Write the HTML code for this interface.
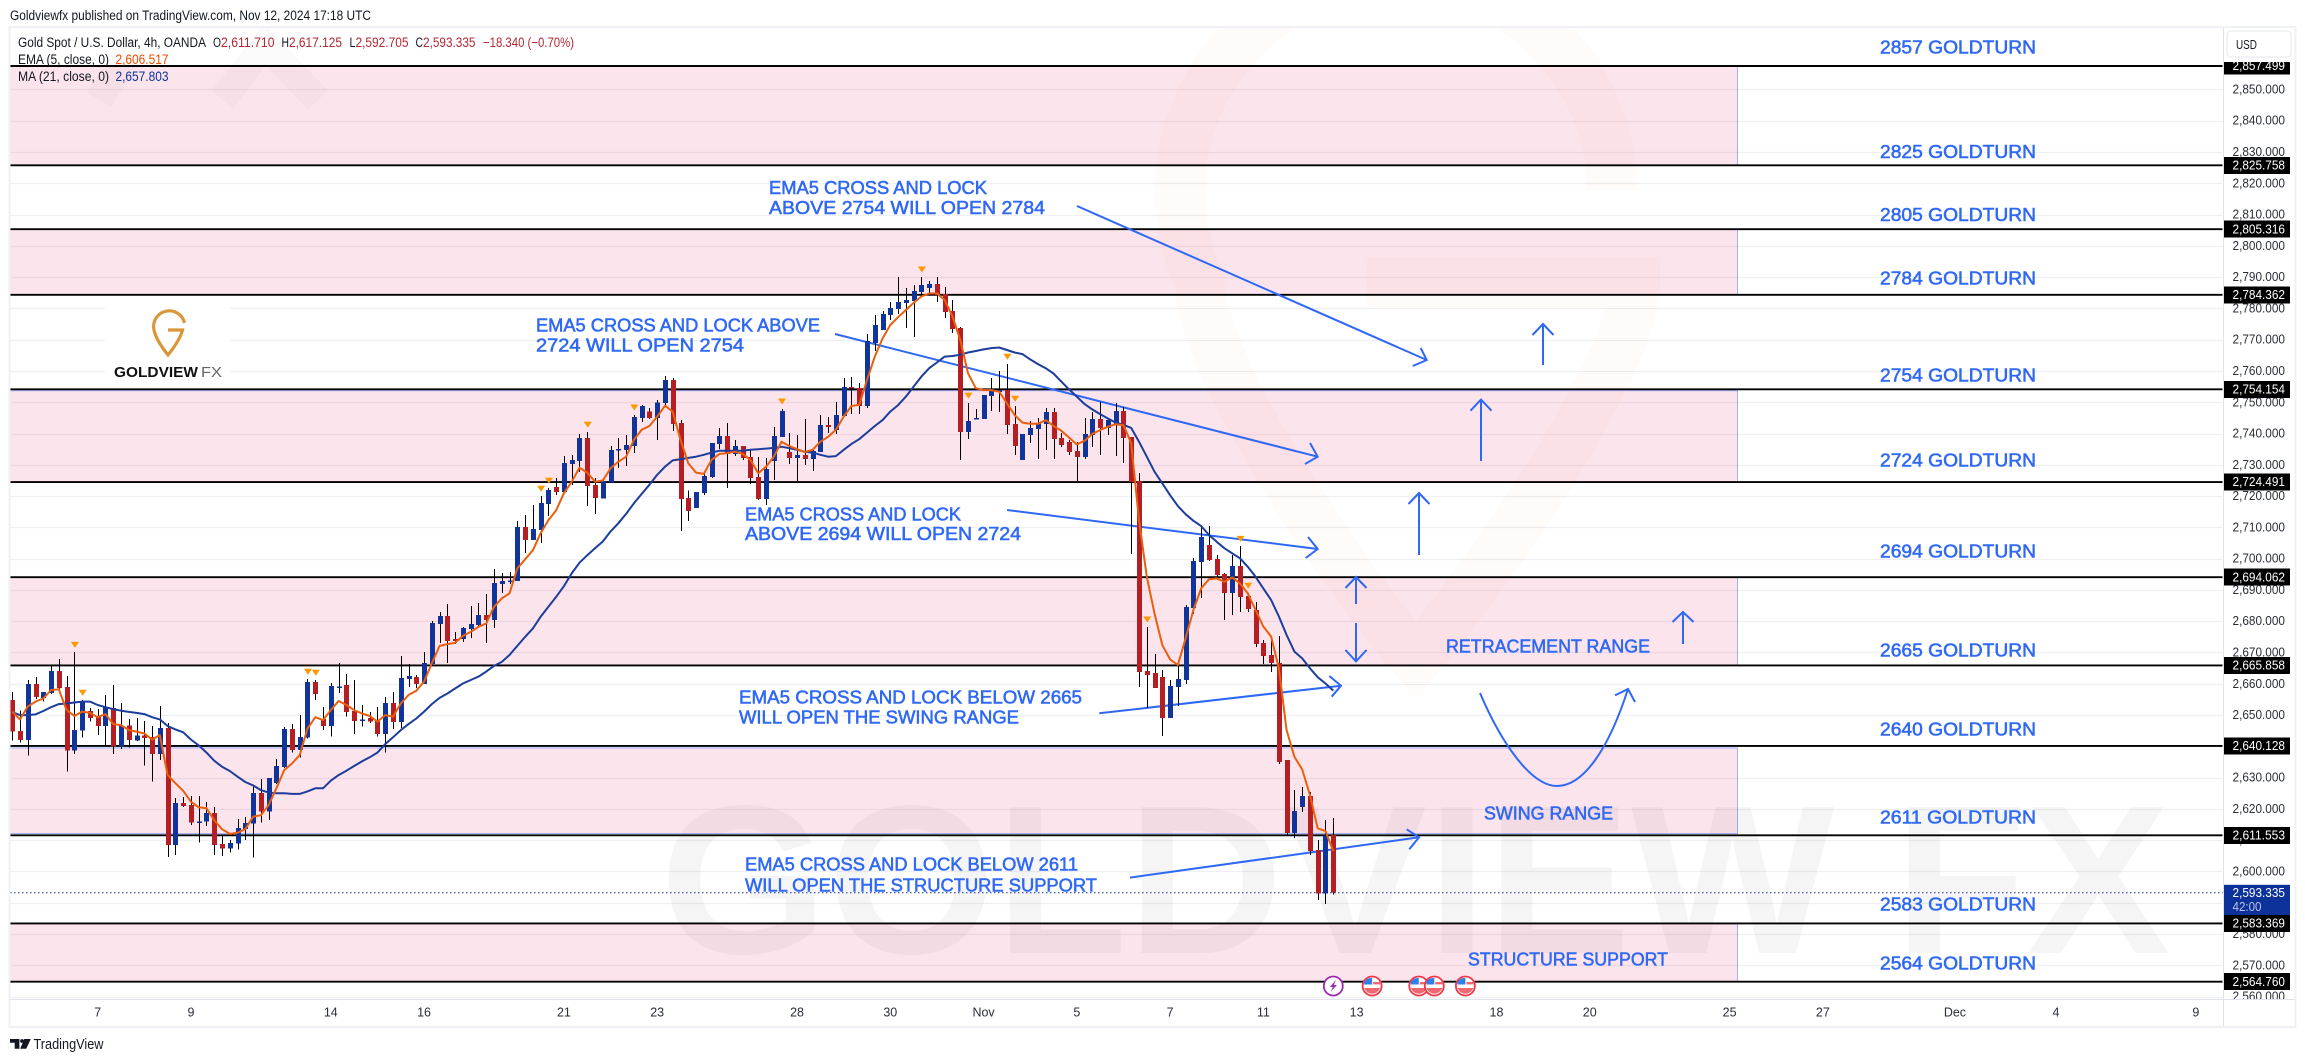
<!DOCTYPE html>
<html lang="en">
<head>
<meta charset="utf-8">
<title>Gold Spot / U.S. Dollar 4h chart</title>
<style>
html,body{margin:0;padding:0;background:#fff;width:2305px;height:1062px;overflow:hidden}
svg{display:block}
text{font-family:"Liberation Sans",sans-serif}
.note{fill:#2f68f5;font-size:18.5px;stroke:#2f68f5;stroke-width:.55}
.arrow{fill:none;stroke:#2f68f5;stroke-width:2;stroke-linejoin:miter}
.legend{font-size:13.5px;fill:#131722}
.red{fill:#b22833}
</style>
</head>
<body>
<svg id="chart" xmlns="http://www.w3.org/2000/svg" width="2305" height="1062" viewBox="0 0 2305 1062">
  <rect x="0" y="0" width="2305" height="1062" fill="#ffffff"/>
  <text x="10" y="20" font-size="13.5" fill="#131722" textLength="361" lengthAdjust="spacingAndGlyphs">Goldviewfx published on TradingView.com, Nov 12, 2024 17:18 UTC</text>
  <rect x="9.5" y="27" width="2286" height="1000" fill="#ffffff" stroke="#eff1f6" stroke-width="2"/>

  <clipPath id="plotClip"><rect x="10.5" y="28" width="2212" height="970.5"/></clipPath>
  <g id="plot" clip-path="url(#plotClip)">
    <g id="gridLayer"></g>
    <g fill="none" stroke="#d68a2e" stroke-opacity=".035" stroke-width="50">
      <path d="M1612 190 A216 216 0 1 0 1200 282 C1200 360 1330 560 1416 660 C1500 560 1635 360 1635 282 H1367"/>
    </g>
    <g stroke="#000" stroke-opacity=".02" stroke-width="28" fill="none">
      <path d="M99 100 L135 41"/>
      <path d="M222 100 L265 45 L318 100"/>
    </g>
    <text x="660" y="953" font-size="212" font-weight="bold" fill="#000" fill-opacity=".04" textLength="1510" lengthAdjust="spacingAndGlyphs">GOLDVIEW FX</text>
    <g id="zoneLayer"></g>
    <g>
      <rect x="105" y="308" width="125" height="72" fill="#ffffff"/>
      <path d="M184.5 323 A15.5 15.5 0 1 0 154 330 Q156 340 168 355 Q180 340 182.5 330 H168" fill="none" stroke="#d9963a" stroke-width="3.2"/>
      <text x="114" y="377" font-size="14.5" font-weight="bold" fill="#111" textLength="84" lengthAdjust="spacingAndGlyphs">GOLDVIEW</text>
      <text x="201" y="377" font-size="14.5" fill="#666" textLength="21" lengthAdjust="spacingAndGlyphs">FX</text>
    </g>
    <g id="levelLayer"></g>
    <line id="lastPriceLine" x1="10" x2="2223" stroke="#0c3299" stroke-width="1" stroke-dasharray="1.5 2.5"/>

    <g class="note">
      <text x="1880" y="53.5" textLength="156" lengthAdjust="spacingAndGlyphs">2857 GOLDTURN</text>
      <text x="1880" y="158" textLength="156" lengthAdjust="spacingAndGlyphs">2825 GOLDTURN</text>
      <text x="1880" y="221" textLength="156" lengthAdjust="spacingAndGlyphs">2805 GOLDTURN</text>
      <text x="1880" y="284.5" textLength="156" lengthAdjust="spacingAndGlyphs">2784 GOLDTURN</text>
      <text x="1880" y="381.5" textLength="156" lengthAdjust="spacingAndGlyphs">2754 GOLDTURN</text>
      <text x="1880" y="466.5" textLength="156" lengthAdjust="spacingAndGlyphs">2724 GOLDTURN</text>
      <text x="1880" y="557.5" textLength="156" lengthAdjust="spacingAndGlyphs">2694 GOLDTURN</text>
      <text x="1880" y="656.5" textLength="156" lengthAdjust="spacingAndGlyphs">2665 GOLDTURN</text>
      <text x="1880" y="735.5" textLength="156" lengthAdjust="spacingAndGlyphs">2640 GOLDTURN</text>
      <text x="1880" y="823.5" textLength="156" lengthAdjust="spacingAndGlyphs">2611 GOLDTURN</text>
      <text x="1880" y="910.5" textLength="156" lengthAdjust="spacingAndGlyphs">2583 GOLDTURN</text>
      <text x="1880" y="969.5" textLength="156" lengthAdjust="spacingAndGlyphs">2564 GOLDTURN</text>
    </g>

    <g class="note">
      <text x="769" y="194" textLength="218" lengthAdjust="spacingAndGlyphs">EMA5 CROSS AND LOCK</text>
      <text x="769" y="214" textLength="276" lengthAdjust="spacingAndGlyphs">ABOVE 2754 WILL OPEN 2784</text>
      <text x="536" y="331.5" textLength="284" lengthAdjust="spacingAndGlyphs">EMA5 CROSS AND LOCK ABOVE</text>
      <text x="536" y="351.5" textLength="208" lengthAdjust="spacingAndGlyphs">2724 WILL OPEN 2754</text>
      <text x="745" y="520.5" textLength="216" lengthAdjust="spacingAndGlyphs">EMA5 CROSS AND LOCK</text>
      <text x="745" y="540" textLength="276" lengthAdjust="spacingAndGlyphs">ABOVE 2694 WILL OPEN 2724</text>
      <text x="739" y="703.5" textLength="343" lengthAdjust="spacingAndGlyphs">EMA5 CROSS AND LOCK BELOW 2665</text>
      <text x="739" y="723.5" textLength="280" lengthAdjust="spacingAndGlyphs">WILL OPEN THE SWING RANGE</text>
      <text x="745" y="870.5" textLength="333" lengthAdjust="spacingAndGlyphs">EMA5 CROSS AND LOCK BELOW 2611</text>
      <text x="745" y="891.5" textLength="352" lengthAdjust="spacingAndGlyphs">WILL OPEN THE STRUCTURE SUPPORT</text>
      <text x="1446" y="652.5" textLength="204" lengthAdjust="spacingAndGlyphs">RETRACEMENT RANGE</text>
      <text x="1484" y="819.5" textLength="129" lengthAdjust="spacingAndGlyphs">SWING RANGE</text>
      <text x="1468" y="965.5" textLength="200" lengthAdjust="spacingAndGlyphs">STRUCTURE SUPPORT</text>
    </g>

    <g class="arrow">
      <path d="M1077 206 L1426.7 360 M1420.7 348 L1426.7 360 L1412.7 366"/>
      <path d="M835 334 L1317.7 456.7 M1310 443 L1317.7 456.7 L1305 464"/>
      <path d="M1007 510 L1317.7 549 M1308 537 L1317.7 549 L1305.7 558"/>
      <path d="M1099.3 713.3 L1341 685.7 M1329.3 676 L1341 685.7 L1331.7 696.7"/>
      <path d="M1130 877.6 L1419 837.3 M1406.7 829.3 L1419 837.3 L1409.3 849.3"/>
      <path d="M1543 365 V324 M1532.5 335 L1543 324 L1553.5 335"/>
      <path d="M1481 461 V399.6 M1470.5 410.7 L1481 399.6 L1491.5 410.7"/>
      <path d="M1419 555 V493 M1408.5 504 L1419 493 L1429.5 504"/>
      <path d="M1356 604 V577 M1345.5 588 L1356 577 L1366.5 588"/>
      <path d="M1356 623 V661.4 M1345.5 650 L1356 661.4 L1366.5 650"/>
      <path d="M1683 644 V612 M1672.5 622 L1683 612 L1693.5 622"/>
      <path d="M1480 693 C1500 740 1530 786 1557 786 C1585 786 1610 745 1628 689 M1615 695.4 L1628 689 L1635 702"/>
    </g>

    <g id="candleLayer" shape-rendering="crispEdges"></g>
    <path id="maLine" fill="none" stroke="#1c3d9b" stroke-width="2" stroke-linejoin="round"/>
    <path id="emaLine" fill="none" stroke="#ea5f0c" stroke-width="2" stroke-linejoin="round"/>
    <g id="markerLayer"></g>
    <g id="eventLayer"></g>
  </g>

  <g class="legend">
    <text x="18" y="47" textLength="188" lengthAdjust="spacingAndGlyphs">Gold Spot / U.S. Dollar, 4h, OANDA</text>
    <text x="213" y="47" textLength="8" lengthAdjust="spacingAndGlyphs">O</text>
    <text class="red" x="221" y="47" textLength="53.5" lengthAdjust="spacingAndGlyphs">2,611.710</text>
    <text x="281.5" y="47" textLength="7.5" lengthAdjust="spacingAndGlyphs">H</text>
    <text class="red" x="289" y="47" textLength="53" lengthAdjust="spacingAndGlyphs">2,617.125</text>
    <text x="349.5" y="47" textLength="6" lengthAdjust="spacingAndGlyphs">L</text>
    <text class="red" x="355.5" y="47" textLength="53" lengthAdjust="spacingAndGlyphs">2,592.705</text>
    <text x="415.5" y="47" textLength="7.5" lengthAdjust="spacingAndGlyphs">C</text>
    <text class="red" x="423" y="47" textLength="52.5" lengthAdjust="spacingAndGlyphs">2,593.335</text>
    <text class="red" x="483" y="47" textLength="91" lengthAdjust="spacingAndGlyphs">−18.340 (−0.70%)</text>
    <text x="18" y="64" textLength="91" lengthAdjust="spacingAndGlyphs">EMA (5, close, 0)</text>
    <text x="115.5" y="64" style="fill:#e65100" textLength="53" lengthAdjust="spacingAndGlyphs">2,606.517</text>
    <text x="18" y="81" textLength="91" lengthAdjust="spacingAndGlyphs">MA (21, close, 0)</text>
    <text x="115.5" y="81" style="fill:#0c3299" textLength="53" lengthAdjust="spacingAndGlyphs">2,657.803</text>
  </g>

  <g>
    <rect x="2223.5" y="28" width="71" height="998" fill="#ffffff"/>
    <g id="priceTickLayer"></g>
    <g id="priceTagLayer" shape-rendering="crispEdges"></g>
    <rect id="lastTag" x="2224" width="66" height="31" fill="#0c3299"/>
    <text id="lastTagPrice" x="2232.5" font-size="12.5" fill="#ffffff" textLength="52.5" lengthAdjust="spacingAndGlyphs">2,593.335</text>
    <text id="lastTagCountdown" x="2232.5" font-size="12.5" fill="#b9c6e8" textLength="29" lengthAdjust="spacingAndGlyphs">42:00</text>
    <g id="priorityTagLayer" shape-rendering="crispEdges"></g>
    <rect x="2223.5" y="28" width="71" height="34" fill="#ffffff"/>
    <rect x="2227" y="31" width="64" height="26" rx="4" fill="#ffffff" stroke="#e4e7ee"/>
    <text x="2236" y="49" font-size="12.5" fill="#131722" textLength="21" lengthAdjust="spacingAndGlyphs">USD</text>
    <rect x="2223.5" y="999" width="71" height="27" fill="#ffffff"/>
    <line x1="2223.5" x2="2223.5" y1="28" y2="1026" stroke="#e0e3eb"/>
  </g>

  <g>
    <rect x="10.5" y="999" width="2212.5" height="27" fill="#ffffff"/>
    <line x1="10" x2="2295" y1="999.5" y2="999.5" stroke="#e0e3eb"/>
    <g id="timeTickLayer"></g>
  </g>

  <g>
    <path fill="#131722" d="M10 1039h9.4v9.7h-4.7v-6h-4.7z M24.2 1039h6.6l-4.6 9.7h-6z"/>
    <circle cx="22" cy="1041" r="1.9" fill="#131722"/>
    <text x="33.5" y="1049" font-size="14.5" fill="#131722" textLength="70" lengthAdjust="spacingAndGlyphs">TradingView</text>
  </g>
</svg>

<script>
const opens = [2654.8,2644.9,2642.1,2659.9,2655.4,2657.0,2664.1,2659.0,2638.6,2645.0,2651.3,2649.7,2646.5,2652.2,2639.9,2646.7,2641.8,2643.5,2643.0,2637.6,
2645.8,2608.5,2621.9,2621.2,2615.9,2615.9,2618.7,2608.8,2607.3,2608.9,2613.6,2615.3,2625.1,2619.1,2628.3,2633.4,2645.5,2638.9,2642.8,2660.6,
2648.7,2646.5,2659.1,2659.6,2651.3,2648.5,2649.0,2648.1,2644.0,2653.8,2647.8,2661.6,2662.1,2659.9,2666.3,2679.1,2681.6,2674.3,2674.3,2677.5,
2678.8,2682.0,2680.4,2691.9,2692.9,2692.8,2710.1,2705.9,2709.1,2717.5,2722.9,2721.3,2730.2,2731.2,2738.6,2723.5,2719.2,2724.4,2734.9,2734.8,
2736.0,2745.0,2747.1,2745.0,2749.7,2757.1,2743.4,2719.4,2716.2,2721.0,2726.1,2736.7,2739.2,2733.5,2736.0,2732.5,2726.1,2719.1,2731.3,2738.9,
2734.1,2732.2,2733.2,2731.9,2734.1,2742.8,2741.2,2745.6,2754.9,2754.6,2748.8,2769.0,2773.1,2777.9,2779.8,2781.8,2782.4,2785.3,2786.6,2787.8,
2784.6,2779.2,2773.8,2740.5,2744.9,2744.7,2752.0,2753.3,2753.9,2743.1,2731.6,2739.6,2741.5,2743.1,2746.9,2738.6,2737.3,2734.4,2732.5,2739.5,
2744.6,2741.8,2742.7,2747.2,2738.9,2724.8,2664.1,2663.4,2662.2,2649.1,2659.0,2661.2,2684.2,2698.9,2704.4,2699.9,2695.1,2689.0,2697.7,2688.1,
2683.6,2673.0,2669.2,2666.6,2635.6,2612.3,2620.6,2624.1,2606.8,2593.0,2611.71];
const highs = [2657.3,2651.4,2661.2,2662.1,2657.3,2665.7,2667.9,2662.5,2670.1,2654.8,2652.2,2651.9,2656.4,2659.6,2653.8,2648.7,2649.0,2648.1,2646.5,2652.9,
2647.4,2623.5,2623.8,2624.1,2624.1,2622.2,2620.6,2611.6,2610.0,2616.8,2617.4,2627.3,2629.5,2629.9,2635.9,2646.2,2647.1,2650.0,2661.5,2661.2,
2652.6,2660.2,2666.6,2663.1,2661.2,2653.2,2651.0,2652.6,2655.8,2657.4,2668.9,2666.3,2662.8,2670.1,2680.1,2682.9,2685.5,2676.5,2678.1,2684.8,
2685.8,2688.7,2696.7,2695.4,2695.7,2712.0,2713.9,2717.1,2720.0,2722.6,2725.8,2732.8,2733.1,2739.8,2740.5,2725.8,2725.4,2736.0,2738.5,2739.6,
2746.0,2749.2,2748.1,2750.8,2758.4,2757.8,2744.3,2721.8,2721.3,2727.1,2737.0,2741.8,2743.4,2738.0,2736.0,2735.1,2732.5,2732.2,2742.1,2747.9,
2740.2,2739.6,2744.7,2734.8,2746.0,2745.3,2750.1,2757.8,2758.1,2756.2,2771.9,2777.9,2779.2,2782.1,2790.1,2786.6,2787.5,2790.1,2788.8,2790.1,
2786.9,2782.7,2774.1,2749.8,2747.9,2752.3,2757.8,2760.0,2762.2,2748.8,2739.9,2744.0,2745.0,2748.2,2748.2,2740.2,2737.9,2737.3,2745.0,2746.9,
2750.1,2745.0,2749.8,2748.5,2738.9,2727.4,2678.2,2669.5,2664.4,2661.2,2667.6,2685.2,2700.2,2710.4,2710.4,2701.2,2695.4,2701.2,2704.0,2689.0,
2686.1,2674.0,2674.0,2675.3,2635.6,2626.0,2627.0,2625.4,2610.0,2616.4,2617.125];
const lows = [2641.8,2641.2,2637.0,2655.1,2654.3,2656.7,2658.3,2631.9,2637.6,2642.8,2647.9,2643.7,2640.2,2637.6,2639.2,2639.6,2641.7,2633.8,2628.7,2635.7,
2604.7,2605.3,2620.6,2614.9,2609.2,2614.6,2605.3,2605.0,2606.0,2607.0,2610.1,2604.4,2615.6,2616.5,2628.0,2633.1,2638.0,2636.4,2642.5,2654.8,
2645.2,2643.1,2657.0,2649.5,2644.0,2646.3,2647.5,2643.1,2638.0,2645.5,2645.8,2659.0,2658.6,2659.9,2666.0,2673.0,2666.6,2672.7,2673.3,2674.6,
2678.5,2673.0,2677.8,2689.0,2691.9,2692.8,2701.8,2705.9,2705.0,2713.6,2720.3,2721.3,2723.5,2727.7,2716.8,2714.3,2719.2,2724.4,2729.0,2729.7,
2733.8,2743.7,2744.7,2738.0,2748.5,2740.8,2708.9,2712.1,2716.2,2720.4,2725.8,2735.1,2722.6,2732.8,2731.6,2723.9,2718.8,2717.2,2725.2,2738.9,
2730.3,2724.9,2730.0,2728.0,2734.1,2740.2,2739.9,2745.6,2746.3,2746.3,2748.2,2766.4,2773.1,2776.3,2778.2,2773.8,2770.9,2784.0,2785.0,2782.1,
2777.0,2772.2,2731.6,2738.3,2744.9,2744.7,2747.2,2746.9,2739.9,2733.2,2731.6,2737.0,2731.9,2734.8,2731.9,2735.7,2733.1,2724.8,2731.9,2735.7,
2733.1,2739.5,2732.8,2730.6,2701.5,2659.0,2652.3,2658.7,2643.3,2649.1,2652.9,2659.9,2682.3,2687.4,2699.3,2693.2,2680.4,2682.0,2682.9,2682.9,
2671.8,2666.3,2663.8,2634.3,2611.3,2610.7,2619.0,2605.2,2590.9,2589.6,2592.705];
const closes = [2644.7,2642.1,2659.9,2655.8,2657.3,2664.1,2658.6,2638.6,2645.2,2654.2,2649.0,2646.5,2652.6,2639.9,2646.7,2642.1,2643.5,2642.6,2637.6,2645.8,
2608.5,2621.9,2620.9,2615.6,2616.0,2618.7,2608.5,2607.3,2609.1,2613.9,2615.5,2625.1,2619.1,2629.9,2633.7,2645.5,2638.9,2643.0,2660.6,2656.7,
2646.5,2659.3,2659.2,2651.0,2648.1,2648.6,2647.9,2644.0,2653.8,2647.8,2661.8,2662.5,2659.9,2666.6,2679.4,2681.6,2673.7,2673.7,2677.8,2679.1,
2682.0,2680.4,2692.2,2692.8,2693.0,2710.1,2705.9,2709.5,2717.8,2721.9,2721.3,2730.6,2731.5,2738.6,2723.2,2719.4,2724.8,2734.8,2735.0,2736.4,
2745.3,2748.8,2745.0,2750.0,2757.1,2743.1,2719.1,2715.3,2721.3,2726.4,2737.0,2739.2,2733.5,2736.0,2732.2,2725.8,2719.1,2728.6,2739.2,2747.2,
2732.2,2733.2,2731.9,2734.4,2742.8,2742.1,2746.0,2754.9,2754.6,2748.8,2769.6,2774.7,2778.2,2780.2,2782.1,2782.7,2785.6,2787.5,2787.8,2784.3,
2778.9,2773.4,2740.5,2744.0,2745.0,2752.3,2753.6,2753.9,2742.8,2736.0,2739.9,2741.8,2743.4,2746.9,2738.3,2736.3,2734.1,2732.5,2739.9,2744.6,
2741.8,2744.3,2747.2,2738.6,2724.5,2663.8,2662.8,2658.7,2649.1,2659.3,2661.5,2684.5,2699.3,2706.9,2699.6,2694.8,2689.0,2697.7,2687.7,2683.9,
2672.7,2668.9,2666.6,2635.0,2612.3,2619.3,2624.1,2606.5,2593.0,2611.5,2593.335];
const emaValues = [2651.1,2648.6,2652.7,2654.3,2655.3,2658.0,2658.2,2651.6,2649.7,2651.1,2650.7,2649.3,2650.3,2647.1,2646.8,2645.2,2644.7,2644.1,2642.2,2643.6,
2630.8,2628.2,2625.8,2622.3,2620.5,2620.2,2616.4,2613.5,2612.0,2612.4,2613.5,2617.5,2618.0,2621.2,2626.6,2632.4,2634.5,2637.2,2645.7,2649.3,
2648.4,2651.6,2654.5,2653.2,2651.6,2650.5,2649.7,2647.9,2650.0,2649.5,2653.7,2656.4,2657.8,2660.7,2666.5,2672.1,2672.7,2673.1,2675.3,2676.6,
2678.2,2679.3,2684.6,2687.3,2688.9,2696.9,2699.8,2702.7,2708.1,2712.3,2715.5,2720.9,2724.6,2729.1,2727.5,2724.6,2725.0,2728.9,2731.0,2732.6,
2738.0,2741.2,2742.4,2745.4,2748.9,2747.0,2738.0,2730.5,2727.5,2727.1,2731.6,2733.5,2733.7,2734.2,2733.5,2731.6,2727.3,2729.4,2732.6,2737.4,
2736.0,2735.0,2734.1,2734.8,2737.4,2739.0,2741.2,2745.4,2748.8,2749.2,2757.1,2764.6,2770.4,2774.7,2777.2,2779.5,2781.8,2783.8,2784.8,2784.8,
2782.7,2777.4,2769.9,2759.3,2754.5,2753.9,2753.9,2753.4,2749.7,2745.9,2743.5,2743.1,2743.1,2744.3,2742.4,2740.9,2738.7,2736.5,2737.7,2739.9,
2741.1,2742.2,2743.0,2742.7,2736.9,2712.4,2694.2,2682.5,2672.4,2667.8,2666.0,2674.5,2683.6,2690.5,2693.4,2693.7,2692.6,2694.0,2692.1,2688.9,
2683.6,2678.3,2675.1,2664.9,2645.2,2636.7,2632.6,2624.4,2613.8,2612.9,2606.517];
const maValues = [2650.9,2650.0,2650.0,2650.2,2651.3,2652.5,2653.5,2653.7,2654.0,2654.3,2654.3,2653.2,2652.5,2651.9,2651.4,2651.0,2650.7,2650.3,2649.3,2648.6,
2646.5,2645.4,2644.5,2642.2,2640.3,2638.0,2635.4,2633.5,2632.1,2630.3,2628.6,2627.5,2626.0,2625.2,2625.0,2625.0,2624.8,2624.8,2625.6,2626.6,
2626.6,2629.0,2630.8,2632.2,2633.7,2635.2,2636.5,2638.0,2640.7,2642.9,2645.2,2647.1,2648.9,2651.1,2653.5,2655.5,2656.9,2658.5,2660.1,2661.2,
2662.3,2663.9,2665.7,2667.0,2669.2,2672.1,2675.0,2677.7,2681.4,2684.6,2687.8,2691.2,2695.3,2698.7,2701.1,2703.3,2705.5,2708.7,2711.3,2714.3,
2717.7,2720.7,2723.6,2726.8,2729.4,2731.4,2731.8,2732.2,2732.6,2733.2,2733.9,2734.5,2734.5,2734.5,2734.5,2734.8,2735.0,2735.2,2735.4,2735.8,
2735.3,2734.8,2734.2,2733.9,2733.2,2732.6,2732.8,2734.8,2736.7,2738.2,2740.3,2742.4,2744.3,2747.0,2749.1,2751.8,2755.0,2758.2,2760.9,2762.7,
2764.6,2764.8,2765.2,2765.9,2766.4,2766.9,2767.3,2767.5,2766.7,2765.9,2765.4,2763.7,2762.2,2760.9,2759.2,2756.6,2754.1,2751.8,2749.4,2747.7,
2746.2,2744.8,2743.5,2742.8,2741.8,2737.4,2732.6,2727.8,2724.1,2720.3,2716.8,2714.2,2712.1,2710.4,2707.6,2705.4,2703.3,2701.7,2700.1,2697.4,
2694.2,2690.5,2686.8,2681.5,2675.6,2670.3,2668.1,2664.9,2662.1,2660.1,2657.803];
const markerBars = [8,9,38,39,68,69,74,80,99,117,123,128,129,146,158,159];
const levelPrices = [2857.499,2825.758,2805.316,2784.362,2754.154,2724.491,2694.062,2665.858,2640.128,2611.553,2583.369,2564.76];
const zoneTops = [2857.5,2805.3,2753.7,2694.06,2639.5,2583.37];
const zoneBottoms = [2825.76,2784.36,2724.49,2665.86,2612.1,2564.76];
const priceTicks = [2850,2840,2830,2820,2810,2800,2790,2780,2770,2760,2750,2740,2730,2720,2710,2700,2690,2680,2670,2660,2650,2640,2630,2620,2610,2600,2590,2580,2570,2560];
const timeTickLabels = ["7","9","14","16","21","23","28","30","Nov","5","7","11","13","18","20","25","27","Dec","4","9"];
const timeTickBars = [11,23,41,53,71,83,101,113,125,137,149,161,173,191,203,221,233,250,263,281];
const eventFlagBars = [175,181,183,187];
const eventBoltBar = 170;
const lastPrice = 2593.335;

const NS = "http://www.w3.org/2000/svg";
function xScale(i){ return 12.2 + 7.771 * i; }
function yScale(p){ return 66 + (2857.499 - p) * 3.128; }
function make(tag, attrs, parent){
  const node = document.createElementNS(NS, tag);
  for (const k in attrs) node.setAttribute(k, attrs[k]);
  parent.appendChild(node);
  return node;
}
function fmt(p){
  const s = p.toFixed(3);
  return s.slice(0,1) + "," + s.slice(1);
}
function linePath(values){
  return values.map((v,i)=>(i?"L":"M")+xScale(i).toFixed(1)+" "+yScale(v).toFixed(1)).join(" ");
}

const gridLayer = document.getElementById("gridLayer");
const priceTickLayer = document.getElementById("priceTickLayer");
priceTicks.forEach(function(p){
  const y = Math.round(yScale(p)) + 0.5;
  const g = make("line",{x1:10,x2:2223,y1:y,y2:y,stroke:"#eef0f4","stroke-width":1.2},gridLayer);
  
  
  const t = make("text",{x:2232.5,y:yScale(p)+4,"font-size":12.5,fill:"#2a2e39",textLength:52.5,lengthAdjust:"spacingAndGlyphs"},priceTickLayer);
  
  
  t.textContent = fmt(p);
});

const zoneLayer = document.getElementById("zoneLayer");
zoneTops.forEach(function(top,i){
  const y1 = yScale(top), y2 = yScale(zoneBottoms[i]);
  const r = make("rect",{x:10,y:y1,width:1727.5,height:y2-y1,fill:"#e91e63","fill-opacity":0.12,stroke:"#2962ff","stroke-opacity":0.45,"stroke-width":1},zoneLayer);
  
  
});

const levelLayer = document.getElementById("levelLayer");
const priceTagLayer = document.getElementById("priceTagLayer");
const priorityTagLayer = document.getElementById("priorityTagLayer");
levelPrices.forEach(function(p){
  const y = yScale(p);
  const l = make("line",{x1:10,x2:2223,y1:y,y2:y,stroke:"#000000","stroke-width":1.9},levelLayer);
  
  
  const tagParent = p < lastPrice && p > 2570 ? priorityTagLayer : priceTagLayer;
  const r = make("rect",{x:2224,y:y-8.5,width:66,height:17,fill:"#000000"},tagParent);
  
  
  const t = make("text",{x:2232.5,y:y+4.2,"font-size":12.5,fill:"#ffffff",textLength:52.5,lengthAdjust:"spacingAndGlyphs"},tagParent);
  
  
  t.textContent = fmt(p);
});

const lastY = yScale(lastPrice);
const lastLine = document.getElementById("lastPriceLine");
lastLine.setAttribute("y1", lastY + 0.5);
lastLine.setAttribute("y2", lastY + 0.5);
document.getElementById("lastTag").setAttribute("y", lastY - 7.5);
document.getElementById("lastTagPrice").setAttribute("y", lastY + 4.5);
document.getElementById("lastTagCountdown").setAttribute("y", lastY + 18.5);

const candleLayer = document.getElementById("candleLayer");
opens.forEach(function(o,i){
  const c = closes[i];
  const x = Math.round(xScale(i));
  const color = c >= o ? "#11349a" : "#b51f24";
  const top = yScale(Math.max(o,c));
  const bottom = yScale(Math.min(o,c));
  const wick = make("rect",{x:x,y:yScale(highs[i]),width:1,height:yScale(lows[i])-yScale(highs[i]),fill:"#000000"},candleLayer);
  
  
  const body = make("rect",{x:x-2,y:top,width:5,height:Math.max(bottom-top,1.5),fill:color},candleLayer);
  
  
});

document.getElementById("emaLine").setAttribute("d", linePath(emaValues));
document.getElementById("maLine").setAttribute("d", linePath(maValues));

const markerLayer = document.getElementById("markerLayer");
markerBars.forEach(function(b){
  const x = xScale(b)+0.5, y = yScale(highs[b])-7.3;
  const m = make("path",{d:"M"+(x-4)+" "+(y-3)+" H"+(x+4)+" L"+x+" "+(y+3)+" Z",fill:"#ff9800"},markerLayer);
  
  
});

const timeTickLayer = document.getElementById("timeTickLayer");
timeTickLabels.forEach(function(label,i){
  const t = make("text",{x:xScale(timeTickBars[i]),y:1016.5,"font-size":12.5,fill:"#2a2e39","text-anchor":"middle"},timeTickLayer);
  
  
  t.textContent = label;
});

const eventLayer = document.getElementById("eventLayer");
const eventY = 986;
const bolt = make("g",{transform:"translate("+xScale(eventBoltBar)+" "+eventY+")"},eventLayer);


bolt.innerHTML = '<circle r="9.5" fill="#fff" stroke="#9c27b0" stroke-width="1.8"/><path d="M2.8 -6 L-3.4 1 H-0.4 L-2.6 6 L3.6 -1 H0.6 Z" fill="#9c27b0"/>';
eventFlagBars.forEach(function(b){
  const g = make("g",{transform:"translate("+xScale(b)+" "+eventY+")"},eventLayer);
  
  
  g.innerHTML = '<circle r="9.5" fill="#fff" stroke="#f23645" stroke-width="1.8"/><path d="M-8 -1.5 V-4 A8.5 8.5 0 0 1 0 -8 V-1.5 Z" fill="#2f7fe8"/><rect x="1" y="-4" width="7.6" height="2.4" fill="#f0686f"/><path d="M-8 2 H8 A8.5 8.5 0 0 1 -8 2 Z" fill="#f0686f"/>';
});
</script>
</body>
</html>
